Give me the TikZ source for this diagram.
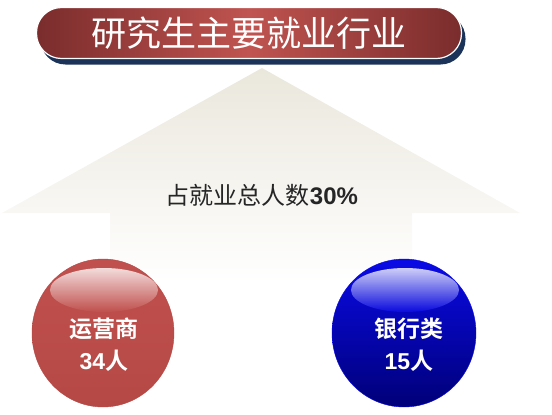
\documentclass[tikz,border=0pt]{standalone}
\usepackage{fontspec}
\usepackage{xcolor}
\usetikzlibrary{shadows}
\newfontfamily\cjk{Noto Sans CJK SC}[BoldFont={Noto Sans CJK SC Bold}]
\newfontfamily\latin{Liberation Sans}
\definecolor{BannerLight}{HTML}{C05450}
\definecolor{BannerDark}{HTML}{7A2C2C}
\definecolor{BannerShadow}{HTML}{1B3358}
\definecolor{ArrowTop}{HTML}{EAE7DC}
\definecolor{RedBall}{HTML}{C0504D}
\definecolor{RedBallDark}{HTML}{B54845}
\definecolor{BlueTop}{HTML}{0A0AE6}
\definecolor{BlueBottom}{HTML}{000078}

\begin{document}
\begin{tikzpicture}[
	x=1pt, y=-1pt, % picture coordinates follow the pixels of the slide
	% Style for the title banner
	banner/.style={
		rounded corners=25pt,
		draw=white,           % thin white rim
		line width=1.2pt,
		left color=BannerDark,
		right color=BannerDark,
		middle color=BannerLight,
		minimum width=425pt,
		minimum height=51pt,
		text=white,
		font=\cjk\fontsize{35}{40}\selectfont,
		drop shadow={fill=BannerShadow, opacity=1,
			shadow xshift=4pt, shadow yshift=-6pt}
	},
	% Style for the sentence in the arrow
	share text/.style={
		font=\cjk\fontsize{24}{28}\selectfont,
		text=black!85,
		inner sep=0pt
	},
	% Style for the labels inside the balls
	ball text/.style={
		font=\cjk\bfseries\fontsize{23}{32}\selectfont,
		text=white,
		align=center,
		inner sep=0pt
	}
	]
	
	\useasboundingbox (0,0) rectangle (552,415);
	
	% 1. Arrow pointing up to the banner
	\shade[top color=ArrowTop, bottom color=white]
		(262,68) -- (520,213) -- (412,213) -- (412,282)
		-- (110,282) -- (110,213) -- (2,213) -- cycle;
	
	% 2. Title banner
	\node[banner] (title) at (249,33) {研究生主要就业行业};
	
	% 3. Share of all graduates
	\node[share text] (share) at (262,195) {占就业总人数{\latin\bfseries 30\%}};
	
	% 4. Red ball
	\shade[top color=RedBall, bottom color=RedBallDark, draw=RedBallDark]
		(103,333) circle[x radius=71, y radius=74];
	\shade[top color=white, bottom color=RedBall, opacity=0.8]
		(104,290) ellipse[x radius=54, y radius=22];
	\node[ball text] (redball) at (104,345) {运营商\\{\latin\bfseries 34}人};
	
	% 5. Blue ball
	\shade[top color=BlueTop, bottom color=BlueBottom, draw=BlueTop]
		(404,333) circle[x radius=72, y radius=74];
	\shade[top color=white, bottom color=BlueTop, opacity=0.8]
		(405,290) ellipse[x radius=54, y radius=22];
	\node[ball text] (blueball) at (409,345) {银行类\\{\latin\bfseries 15}人};
	
\end{tikzpicture}
\end{document}
